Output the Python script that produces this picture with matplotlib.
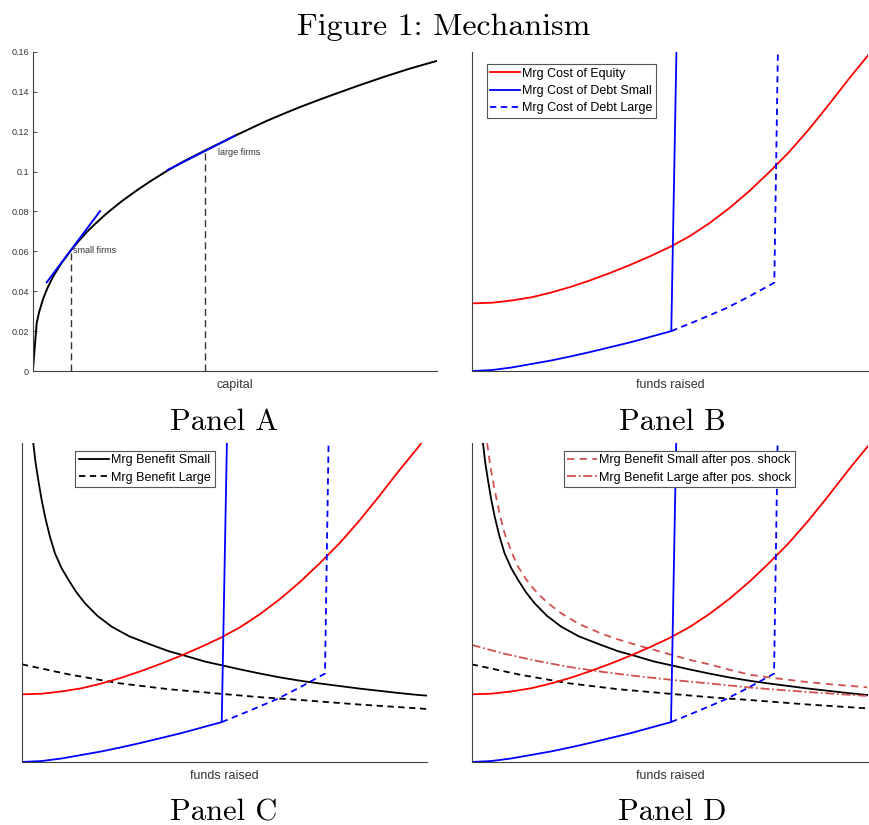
import numpy as np
import matplotlib
matplotlib.use('Agg')
import matplotlib.pyplot as plt

plt.rcParams['font.family'] = ['Liberation Sans', 'DejaVu Sans']

# Panel A: production curve (capital, output)
cap_x = [0, 0.9, 1.5, 2.5, 3.5, 5, 7, 9.2, 11, 13.3, 15.5, 18.2, 22, 25.7, 29, 33.1, 37.5,
         42.6, 46, 50, 54, 57.8, 62, 66, 70, 74.3, 80.5, 86.7, 93, 99.9]
cap_y = [0.001, 0.0239, 0.0295, 0.0362, 0.0413, 0.0475, 0.0540, 0.0600, 0.0645, 0.0697,
         0.0740, 0.0790, 0.0852, 0.0906, 0.0951, 0.1003, 0.1054, 0.1106, 0.1140, 0.1180, 0.1218,
         0.1254, 0.1290, 0.1323, 0.1354, 0.1386, 0.1431, 0.1474, 0.1515, 0.1555]
small_x, small_y = 9.4, 0.06
large_x, large_y = 42.6, 0.11
tan_small_x = [3.4, 16.6]
tan_small_y = [0.0445, 0.0802]
tan_large_x = [33.3, 50.0]
tan_large_y = [0.1008, 0.1180]
a_yticks = [0, 0.02, 0.04, 0.06, 0.08, 0.1, 0.12, 0.14, 0.16]
a_yticklabels = ['0', '0.02', '0.04', '0.06', '0.08', '0.1', '0.12', '0.14', '0.16']

# Panels B-D: marginal cost / benefit curves (funds raised, rate)
eq_x = [0, 5, 10, 15, 20, 25, 30, 35, 40, 45, 50, 55, 60, 65, 70, 75, 80, 85, 90, 95, 100, 102]
eq_y = [21.2, 21.4, 22.1, 23.1, 24.6, 26.4, 28.5, 30.8, 33.3, 36.0, 38.9, 42.3, 46.4, 51.1,
        56.4, 62.3, 68.6, 75.7, 83.4, 91.4, 99.0, 102.5]
debt_s_x = [0, 5, 10, 15, 20, 25, 30, 35, 40, 45, 50.3, 51.6]
debt_s_y = [0, 0.3, 1.1, 2.2, 3.3, 4.6, 6.0, 7.5, 9.0, 10.7, 12.5, 100]
debt_l_x = [50.3, 57, 64.2, 70, 76.3, 77.2]
debt_l_y = [12.5, 15.9, 19.7, 23.4, 27.7, 100]
ben_s_x = [2.85, 3.4, 4.1, 4.9, 5.8, 7, 8.3, 10, 11.7, 13.7, 15.9, 19, 22.6, 27, 32.6, 37, 41.9,
           46, 50.7, 55, 60, 65, 70.4, 75, 80, 85, 90, 95, 99.8, 102]
ben_s_y = [99.9, 94, 88.4, 82.5, 76.9, 70.8, 65.4, 60.7, 57.1, 53.2, 49.7, 45.8, 42.4, 39.4, 36.7,
           34.7, 33.0, 31.5, 30.2, 29.0, 27.7, 26.5, 25.4, 24.6, 23.8, 23.0, 22.3, 21.6, 21.0, 20.8]
ben_l_x = [0, 12, 24.3, 37, 50.7, 60, 70.4, 85, 99.8, 102]
ben_l_y = [30.6, 27.4, 24.7, 22.8, 21.3, 20.3, 19.4, 18.0, 16.8, 16.6]
shock_s_x = [3.9, 4.8, 5.8, 7, 8.3, 10, 11.7, 13.7, 15.9, 19, 22.6, 27, 32.6, 37, 41, 46.1, 50.7,
             55, 60, 65, 70.4, 77, 85, 92, 99.8]
shock_s_y = [99.9, 92, 85.3, 78, 71.7, 66, 61.2, 57.3, 53.9, 50, 46.6, 43.3, 40.3, 38.4, 36.9,
             35.1, 33.5, 32.0, 30.6, 28.9, 27.3, 26.2, 25.0, 24.2, 23.4]
shock_l_x = [0, 8, 15.9, 24, 32.6, 41, 50.7, 60, 70.4, 85, 99.8]
shock_l_y = [36.7, 34.0, 31.8, 29.9, 28.3, 27.0, 25.7, 24.6, 23.3, 21.9, 20.7]

RED = '#FF0000'
BLUE = '#0000FF'
PINK = '#D05050'
SPINE = '#404040'
DASH = (0, (3.5, 2.5))

fig = plt.figure(figsize=(8.69, 8.25), dpi=100)


def style(ax, xlabel):
    for s in ['top', 'right']:
        ax.spines[s].set_visible(False)
    for s in ['left', 'bottom']:
        ax.spines[s].set_color(SPINE)
        ax.spines[s].set_linewidth(0.8)
    ax.set_xticks([])
    ax.set_xlabel(xlabel, fontsize=9, color='#333333', labelpad=6)


def legend(ax, handles, loc_xy):
    leg = ax.legend(handles=handles, loc='upper left', bbox_to_anchor=loc_xy, borderaxespad=0,
                    fontsize=9, fancybox=False, framealpha=1, edgecolor='#555555', handlelength=2.4,
                    handletextpad=0.15, labelspacing=0.42, borderpad=0.3)
    leg.get_frame().set_linewidth(0.8)


def cost_curves(ax):
    h1, = ax.plot(eq_x, eq_y, color=RED, lw=1.3, label='Mrg Cost of Equity')
    h2, = ax.plot(debt_s_x, debt_s_y, color=BLUE, lw=1.3, label='Mrg Cost of Debt Small')
    h3, = ax.plot(debt_l_x, debt_l_y, color=BLUE, lw=1.3, ls=DASH, label='Mrg Cost of Debt Large')
    return [h1, h2, h3]


# Panel A
axA = fig.add_axes([0.0380, 0.5503, 0.4649, 0.3867])
axA.plot(cap_x, cap_y, color='black', lw=1.4)
axA.plot([small_x, small_x], [0, small_y], color='#333333', lw=1.0, ls=(0, (5, 3)))
axA.plot([large_x, large_x], [0, large_y], color='#333333', lw=1.0, ls=(0, (5, 3)))
axA.plot(tan_small_x, tan_small_y, color=BLUE, lw=1.4)
axA.plot(tan_large_x, tan_large_y, color=BLUE, lw=1.4)
axA.text(small_x + 0.5, small_y + 0.0003, 'small firms', fontsize=6.5, color='#333333', va='center')
axA.text(large_x + 3.2, large_y - 0.0003, 'large firms', fontsize=6.5, color='#333333', va='center')
axA.set_xlim(0, 100)
axA.set_ylim(0, 0.16)
style(axA, 'capital')
axA.set_yticks(a_yticks)
axA.set_yticklabels(a_yticklabels)
axA.tick_params(axis='y', direction='in', length=3, width=0.6, labelsize=6.5, colors='#333333', pad=3)

# Panel B
axB = fig.add_axes([0.5431, 0.5503, 0.4560, 0.3867])
hB = cost_curves(axB)
axB.set_xlim(0, 100)
axB.set_ylim(0, 100)
axB.set_yticks([])
style(axB, 'funds raised')
legend(axB, hB, (0.037, 0.962))

# Panel C
axC = fig.add_axes([0.0253, 0.0764, 0.4661, 0.3867])
hb1, = axC.plot(ben_s_x, ben_s_y, color='black', lw=1.3, label='Mrg Benefit Small')
hb2, = axC.plot(ben_l_x, ben_l_y, color='black', lw=1.3, ls=DASH, label='Mrg Benefit Large')
cost_curves(axC)
axC.set_xlim(0, 102)
axC.set_ylim(0, 100)
axC.set_yticks([])
style(axC, 'funds raised')
legend(axC, [hb1, hb2], (0.132, 0.976))

# Panel D
axD = fig.add_axes([0.5428, 0.0764, 0.4560, 0.3867])
axD.plot(ben_s_x, ben_s_y, color='black', lw=1.3)
axD.plot(ben_l_x, ben_l_y, color='black', lw=1.3, ls=DASH)
hd1, = axD.plot(shock_s_x, shock_s_y, color=PINK, lw=1.3, ls=(0, (4, 3)),
                label='Mrg Benefit Small after pos. shock')
hd2, = axD.plot(shock_l_x, shock_l_y, color=PINK, lw=1.3, ls=(0, (5, 1.5, 1, 1.5)),
                label='Mrg Benefit Large after pos. shock')
cost_curves(axD)
axD.set_xlim(0, 100)
axD.set_ylim(0, 100)
axD.set_yticks([])
style(axD, 'funds raised')
legend(axD, [hd1, hd2], (0.232, 0.976))

# titles
fig.text(0.511, 0.957, 'Figure 1: Mechanism', fontsize=23, family='cmr10', ha='center', va='baseline')
for x, y, t in [(0.2578, 0.479, 'Panel A'), (0.7733, 0.479, 'Panel B'),
                (0.2578, 0.006, 'Panel C'), (0.7733, 0.006, 'Panel D')]:
    fig.text(x, y, t, fontsize=22, family='cmr10', ha='center', va='baseline')

fig.savefig('out.png', dpi=100)
